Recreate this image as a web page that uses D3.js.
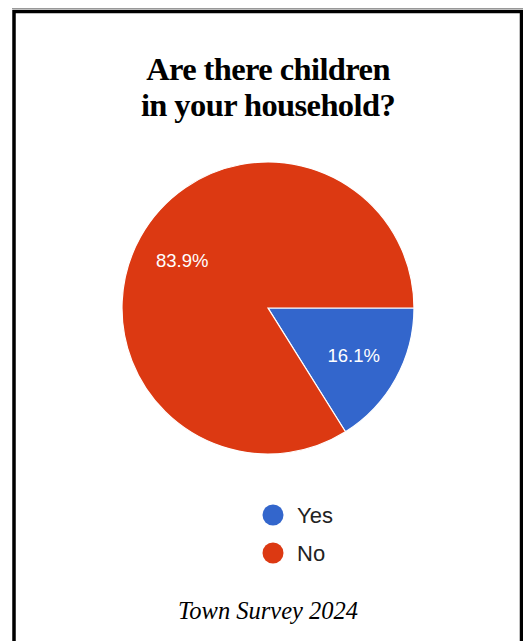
<!DOCTYPE html>
<html>
<head>
<meta charset="utf-8">
<script src="https://cdnjs.cloudflare.com/ajax/libs/d3/7.8.5/d3.min.js"></script>
<style>
  body { margin: 0; background: #fff; }
</style>
</head>
<body>
<div id="chart"></div>
<script>
  // chart data
  var categories = ['Yes', 'No'];
  var values = [16.1, 83.9];
  var colors = ['#3366cc', '#dc3912'];
  var titleLines = ['Are there children', 'in your household?'];
  var footer = 'Town Survey 2024';

  var W = 523, H = 641;
  var cx = 268, cy = 308, R = 146;

  var svg = d3.select('#chart').append('svg')
      .attr('width', W).attr('height', H);

  svg.append('rect').attr('width', W).attr('height', H).attr('fill', '#fff');

  // frame
  svg.append('line').attr('x1', 12).attr('x2', W).attr('y1', 8.5).attr('y2', 8.5)
     .attr('stroke', '#999').attr('stroke-width', 1);
  svg.append('rect').attr('x', 14).attr('y', 11.5).attr('width', 507.5).attr('height', 700)
     .attr('fill', 'none').attr('stroke', '#000').attr('stroke-width', 3.5);

  // title
  svg.append('text')
     .attr('x', cx).attr('text-anchor', 'middle')
     .style('font-family', '"Liberation Serif", "DejaVu Serif", serif')
     .style('font-weight', 'bold').style('font-size', '32.5px').style('letter-spacing', '-0.6px')
     .attr('fill', '#000')
     .selectAll('tspan').data(titleLines).enter().append('tspan')
     .attr('x', cx).attr('y', function(d, i) { return 80 + i * 36; })
     .text(function(d) { return d; });

  // pie
  var pie = d3.pie().sort(null)
      .startAngle(Math.PI / 2).endAngle(Math.PI / 2 + 2 * Math.PI);
  var arcs = pie(values);
  var arc = d3.arc().innerRadius(0).outerRadius(R);
  var labelArc = d3.arc().innerRadius(98).outerRadius(98);

  var g = svg.append('g').attr('transform', 'translate(' + cx + ',' + cy + ')');
  g.selectAll('path').data(arcs).enter().append('path')
   .attr('d', arc)
   .attr('fill', function(d, i) { return colors[i]; })
   .attr('stroke', '#fff').attr('stroke-width', 1.2);

  g.selectAll('.lbl').data(arcs).enter().append('text')
   .attr('class', 'lbl')
   .attr('transform', function(d) { return 'translate(' + labelArc.centroid(d) + ')'; })
   .attr('text-anchor', 'middle').attr('dy', '0.36em')
   .style('font-family', '"Liberation Sans", Arial, sans-serif').style('font-size', '18.5px')
   .attr('fill', '#fff')
   .text(function(d) { return d.data.toFixed(1) + '%'; });

  // legend
  var leg = svg.append('g').selectAll('g').data(categories).enter().append('g')
      .attr('transform', function(d, i) { return 'translate(273,' + (515 + i * 38) + ')'; });
  leg.append('circle').attr('r', 10.5).attr('fill', function(d, i) { return colors[i]; });
  leg.append('text').attr('x', 24).attr('dy', '0.36em')
     .style('font-family', '"Liberation Sans", Arial, sans-serif').style('font-size', '22px')
     .attr('fill', '#222')
     .text(function(d) { return d; });

  // footer
  svg.append('text').attr('x', cx).attr('y', 619).attr('text-anchor', 'middle')
     .style('font-family', '"Liberation Serif", "DejaVu Serif", serif')
     .style('font-style', 'italic').style('font-size', '24.5px')
     .attr('fill', '#000')
     .text(footer);
</script>
</body>
</html>
